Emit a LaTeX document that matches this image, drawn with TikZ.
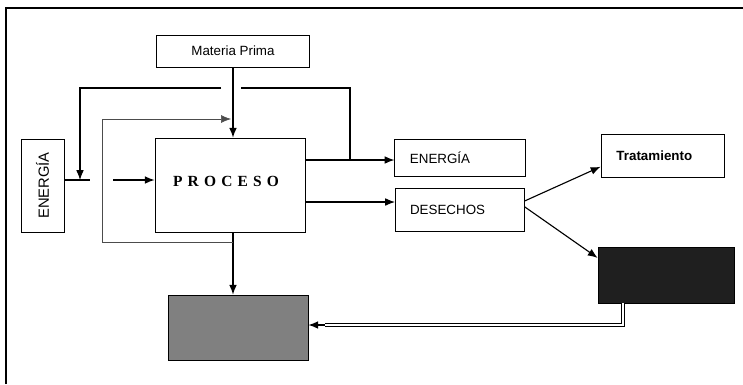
\documentclass[tikz,border=0pt]{standalone}
\usepackage{fontspec}
\setmainfont{Liberation Sans}
\newfontfamily\procfont{Liberation Serif}
\usepackage{tikz}
\usetikzlibrary{arrows.meta,positioning,calc}

\begin{document}
\begin{tikzpicture}[x=0.025cm, y=-0.025cm, >={Latex[length=7pt,width=5.5pt]},
  blk/.style={draw, line width=0.5pt, inner sep=0pt, font=\fontsize{9.5}{11}\selectfont},
  blkl/.style={blk, align=left, inner xsep=0.38cm},
  flow/.style={line width=0.8pt},
  loopln/.style={line width=0.4pt, black!70},
  dbl/.style={double, double distance=1.3pt, line width=0.5pt}]

  \useasboundingbox (0,0) rectangle (743,384);

  % Frame
  \draw[line width=0.9pt] (6,384) -- (6,8) -- (743,8);

  % Define nodes
  \node (mp) [blk, minimum width=3.83cm, minimum height=0.8cm] at (233,51) {Materia Prima};
  \node (proc) [blk, minimum width=3.75cm, minimum height=2.35cm] at (230,185) {};
  \node (proctxt) at (226,181) {\procfont\bfseries\fontsize{11}{13}\selectfont P\,\,R\,\,O\,\,C\,\,E\,\,S\,\,O};
  \node (ein) [blk, minimum width=1.075cm, minimum height=2.33cm] at (42.5,185.5) {\fontsize{10.5}{12}\selectfont\rotatebox{90}{ENERGÍA}};
  \node (eout) [blkl, text width=2.5cm, minimum height=0.925cm] at (460,157.5) {ENERGÍA};
  \node (des) [blkl, text width=2.47cm, minimum height=1.075cm] at (459.5,209.5) {DESECHOS\\[3pt]};
  \node (trat) [blkl, text width=2.3cm, inner xsep=0.39cm, minimum height=1.075cm, font=\fontsize{9.5}{11}\selectfont\bfseries] at (662.5,155.5) {Tratamiento\\[4pt]};
  \node (res) [blk, fill=black!88, minimum width=3.4cm, minimum height=1.4cm] at (666,275) {};
  \node (rec) [blk, fill=black!50, minimum width=3.5cm, minimum height=1.625cm] at (238,327.5) {};

  % Junction points
  \coordinate (jn) at (350,160);
  \coordinate (gr) at (241,88);
  \coordinate (gl) at (221,88);
  \coordinate (ej) at (80,180);
  \coordinate (eg) at (90,180);
  \coordinate (eg2) at (113,180);
  \coordinate (din) at (395,202);
  \coordinate (lps) at (233,242);
  \coordinate (lpc) at (102,119);
  \coordinate (lpe) at (231,119);
  \coordinate (dbt) at (623,303);
  \coordinate (dbe) at (325,325);

  % Draw arrows
  \draw[flow, ->] (mp.south) -- (mp.south |- proc.north);
  \draw[flow, ->] (proc.east |- jn) -- (eout.west |- jn);
  \draw[flow] (jn) |- (gr);
  \draw[flow, ->] (gl) -| (ej);
  \draw[flow] (ein.east |- ej) -- (eg);
  \draw[flow, ->] (eg2) -- (proc.west |- eg2);
  \draw[flow, ->] (proc.east |- din) -- (din);
  \draw[flow, ->] ([yshift=6pt]des.east) -- ([yshift=-8pt]trat.west);
  \draw[flow, ->] ([yshift=2pt]des.east) -- ([yshift=-8pt]res.north west);
  \draw[flow, ->] (mp.south |- proc.south) -- (mp.south |- rec.north);
  \draw[loopln, ->] (lps) -| (lpc) -- (lpe);
  \draw[dbl] (dbt) |- (dbe);
  \draw[flow, ->] (dbe) -- (rec.east |- dbe);
\end{tikzpicture}
\end{document}
